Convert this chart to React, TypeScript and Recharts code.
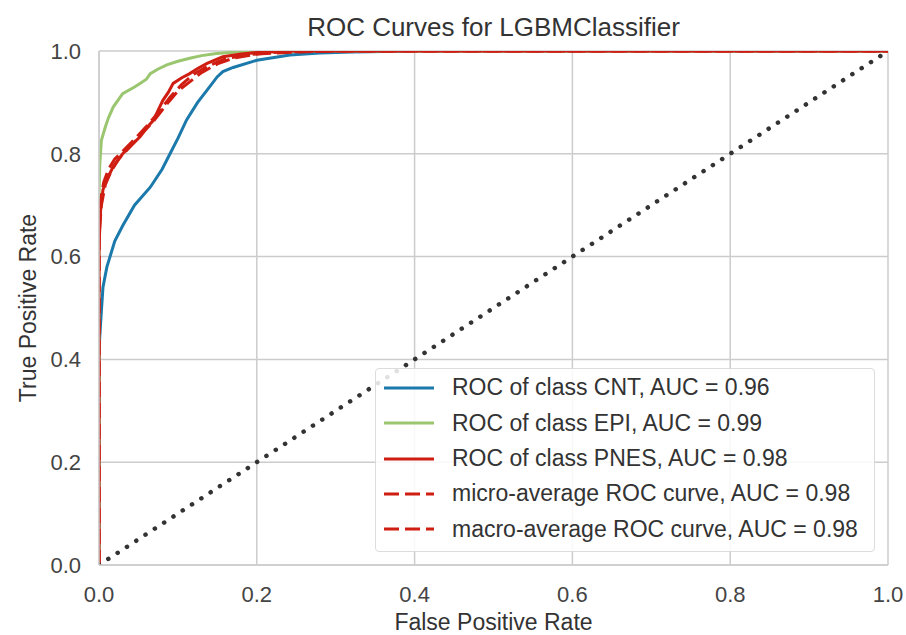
import React from 'react';
import { LineChart, Line, XAxis, YAxis, CartesianGrid } from 'recharts';

const ticks = [0, 0.2, 0.4, 0.6, 0.8, 1.0];

const cntFpr = [0, 0, 0.002, 0.005, 0.01, 0.02, 0.03, 0.045, 0.065, 0.08, 0.09, 0.1, 0.111, 0.125, 0.137, 0.15, 0.157, 0.17, 0.2, 0.242, 0.28, 0.32, 0.4, 1];
const cntTpr = [0, 0.42, 0.47, 0.54, 0.58, 0.63, 0.66, 0.7, 0.735, 0.77, 0.8, 0.83, 0.866, 0.9, 0.924, 0.95, 0.96, 0.968, 0.982, 0.992, 0.996, 0.998, 1, 1];

const epiFpr = [0, 0, 0.001, 0.003, 0.008, 0.012, 0.018, 0.03, 0.045, 0.052, 0.06, 0.065, 0.075, 0.086, 0.1, 0.115, 0.13, 0.149, 0.175, 0.25, 1];
const epiTpr = [0, 0.72, 0.78, 0.826, 0.852, 0.87, 0.891, 0.917, 0.93, 0.937, 0.945, 0.956, 0.965, 0.973, 0.98, 0.986, 0.991, 0.995, 0.998, 1, 1];

const pnesFpr = [0, 0, 0.002, 0.005, 0.01, 0.018, 0.03, 0.04, 0.052, 0.06, 0.069, 0.075, 0.081, 0.088, 0.094, 0.105, 0.115, 0.125, 0.137, 0.157, 0.18, 0.2, 0.25, 1];
const pnesTpr = [0, 0.62, 0.69, 0.73, 0.75, 0.775, 0.8, 0.815, 0.833, 0.85, 0.865, 0.885, 0.904, 0.92, 0.937, 0.948, 0.956, 0.966, 0.976, 0.989, 0.994, 0.997, 1, 1];

const microFpr = [0, 0, 0.003, 0.008, 0.015, 0.025, 0.04, 0.055, 0.07, 0.085, 0.1, 0.115, 0.13, 0.15, 0.17, 0.2, 0.25, 0.3, 1];
const microTpr = [0, 0.64, 0.7, 0.74, 0.765, 0.79, 0.815, 0.84, 0.865, 0.895, 0.922, 0.94, 0.958, 0.975, 0.986, 0.994, 0.998, 1, 1];

const macroFpr = [0, 0, 0.002, 0.006, 0.012, 0.02, 0.03, 0.045, 0.06, 0.075, 0.09, 0.105, 0.12, 0.14, 0.16, 0.19, 0.23, 0.3, 1];
const macroTpr = [0, 0.66, 0.71, 0.745, 0.77, 0.79, 0.805, 0.828, 0.853, 0.88, 0.91, 0.935, 0.955, 0.972, 0.985, 0.993, 0.998, 1, 1];

const diagFpr = [0, 1];
const diagTpr = [0, 1];

const legendLabels = [
  'ROC of class CNT, AUC = 0.96',
  'ROC of class EPI, AUC = 0.99',
  'ROC of class PNES, AUC = 0.98',
  'micro-average ROC curve, AUC = 0.98',
  'macro-average ROC curve, AUC = 0.98',
];

const BLUE = '#1b79ab';
const GREEN = '#9ac66f';
const RED = '#cf1d12';
const FONT = '"Liberation Sans", Arial, sans-serif';

const pts = (xs: number[], ys: number[]) => xs.map((x, i) => ({ x, y: ys[i] }));

const legendItems = [
  { label: legendLabels[0], color: BLUE, dash: undefined },
  { label: legendLabels[1], color: GREEN, dash: undefined },
  { label: legendLabels[2], color: RED, dash: undefined },
  { label: legendLabels[3], color: RED, dash: '15 6' },
  { label: legendLabels[4], color: RED, dash: '15 6' },
];

const RocLegend = () => (
  <div
    style={{
      position: 'absolute', left: 375, top: 368, width: 500, height: 184,
      boxSizing: 'border-box', border: '1px solid #dcdcdc', borderRadius: 4,
      background: 'rgba(255,255,255,0.85)', fontFamily: FONT,
    }}
  >
    {legendItems.map((it, i) => (
      <div key={i} style={{ position: 'absolute', left: 0, top: 18.7 + i * 35.4 - 17, height: 34, display: 'flex', alignItems: 'center' }}>
        <svg width={76} height={34}>
          <line x1={8} x2={58} y1={17} y2={17} stroke={it.color} strokeWidth={3} strokeDasharray={it.dash} />
        </svg>
        <span style={{ fontSize: 23, color: '#333', whiteSpace: 'nowrap' }}>{it.label}</span>
      </div>
    ))}
  </div>
);

export default function App() {
  const fmt = (v: number) => v.toFixed(1);
  return (
    <div style={{ position: 'absolute', left: 0, top: 0, width: 906, height: 635, background: '#fff', fontFamily: FONT }}>
      <div style={{ position: 'absolute', left: 99, width: 789, top: 12, textAlign: 'center', fontSize: 26, color: '#333' }}>
        ROC Curves for LGBMClassifier
      </div>
      <LineChart width={906} height={635} margin={{ top: 51, right: 18, bottom: 30, left: 39 }}>
        <CartesianGrid stroke="#cccccc" strokeWidth={1.5} />
        <XAxis
          type="number" dataKey="x" domain={[0, 1]} ticks={ticks} tickFormatter={fmt}
          height={40} tickSize={0} tickMargin={21} axisLine={{ stroke: '#cccccc', strokeWidth: 1.5 }}
          tick={{ fontSize: 22, fill: '#444', fontFamily: FONT }} allowDataOverflow
        />
        <YAxis
          type="number" dataKey="y" domain={[0, 1]} ticks={ticks} tickFormatter={fmt}
          width={60} tickSize={0} tickMargin={18} axisLine={{ stroke: '#cccccc', strokeWidth: 1.5 }}
          tick={{ fontSize: 22, fill: '#444', fontFamily: FONT }} allowDataOverflow
        />
        <Line data={pts(cntFpr, cntTpr)} dataKey="y" type="linear" stroke={BLUE} strokeWidth={3} dot={false} isAnimationActive={false} />
        <Line data={pts(epiFpr, epiTpr)} dataKey="y" type="linear" stroke={GREEN} strokeWidth={3} dot={false} isAnimationActive={false} />
        <Line data={pts(pnesFpr, pnesTpr)} dataKey="y" type="linear" stroke={RED} strokeWidth={3} dot={false} isAnimationActive={false} />
        <Line data={pts(microFpr, microTpr)} dataKey="y" type="linear" stroke={RED} strokeWidth={3} strokeDasharray="15 6" dot={false} isAnimationActive={false} />
        <Line data={pts(macroFpr, macroTpr)} dataKey="y" type="linear" stroke={RED} strokeWidth={3} strokeDasharray="15 6" dot={false} isAnimationActive={false} />
        <Line data={pts(diagFpr, diagTpr)} dataKey="y" type="linear" stroke="#333" strokeWidth={4.5} strokeDasharray="0.1 11" strokeLinecap="round" dot={false} isAnimationActive={false} />
      </LineChart>
      <RocLegend />
      <div style={{ position: 'absolute', left: 99, width: 789, top: 611, lineHeight: 1, textAlign: 'center', fontSize: 23, color: '#333' }}>
        False Positive Rate
      </div>
      <div
        style={{
          position: 'absolute', left: 28, top: 308, fontSize: 23, lineHeight: 1, color: '#333', whiteSpace: 'nowrap',
          transform: 'translate(-50%, -50%) rotate(-90deg)',
        }}
      >
        True Positive Rate
      </div>
    </div>
  );
}
